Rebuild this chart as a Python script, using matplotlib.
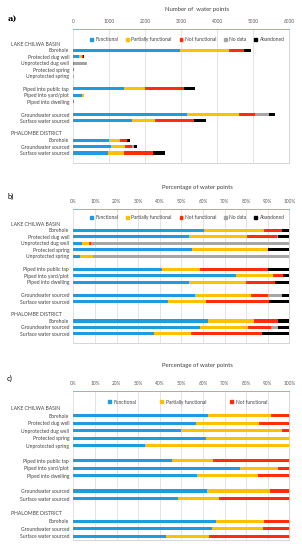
import matplotlib
matplotlib.use("Agg")
import matplotlib.pyplot as plt
from matplotlib.patches import Patch
from matplotlib.transforms import blended_transform_factory

plt.rcParams['font.family'] = ['Lato', 'DejaVu Sans']

# categories (top to bottom)
categories = ['Borehole', 'Protected dug well', 'Unprotected dug well', 'Protected spring',
              'Unprotected spring', 'Piped into public tap', 'Piped into yard/plot',
              'Piped into dwelling', 'Groundwater sourced', 'Surface water sourced',
              'Borehole', 'Groundwater sourced', 'Surface water sourced']
headers = ['LAKE CHILWA BASIN', 'PHALOMBE DISTRICT']
status_names = ['Functional', 'Partially functional', 'Not functional', 'No data', 'Abandoned']

# a) number of water points
a_functional = [2960, 155, 14, 11, 1, 1400, 233, 8, 3160, 1630, 990, 1035, 955]
a_partial = [1370, 80, 14, 7, 2, 590, 52, 4, 1450, 650, 315, 400, 445]
a_notfunc = [420, 38, 2, 0, 0, 1075, 15, 2, 445, 1075, 185, 195, 825]
a_nodata = [0, 3, 360, 0, 30, 0, 0, 0, 380, 0, 0, 55, 0]
a_abandoned = [175, 15, 0, 2, 0, 315, 10, 1, 165, 340, 85, 75, 325]

# b) percentage of water points, all statuses
b_functional = [60.5, 53.4, 3.9, 54.9, 2.9, 41.0, 75.3, 53.4, 56.2, 44.0, 62.5, 58.8, 37.2]
b_partial = [27.6, 27.2, 3.5, 35.1, 6.2, 17.5, 17.0, 26.5, 25.9, 17.3, 21.1, 21.9, 17.4]
b_notfunc = [8.7, 13.5, 0.6, 0, 0, 31.6, 4.9, 13.5, 8.2, 29.3, 11.3, 11.0, 32.6]
b_nodata = [0, 0.7, 92.0, 0, 90.9, 0, 0, 0, 6.5, 0, 0, 3.1, 0]
b_abandoned = [3.2, 5.2, 0, 10.0, 0, 9.9, 2.8, 6.6, 3.2, 9.4, 5.1, 5.2, 12.8]

# c) percentage of water points, known status only
c_functional = [62.3, 56.6, 50.0, 61.3, 33.3, 45.8, 77.3, 57.3, 61.9, 48.5, 65.9, 64.2, 42.7]
c_partial = [29.1, 29.2, 46.6, 38.7, 66.7, 19.1, 17.5, 28.3, 29.1, 19.1, 22.4, 23.6, 20.1]
c_notfunc = [8.6, 14.2, 3.4, 0, 0, 35.1, 5.2, 14.4, 9.0, 32.4, 11.7, 12.2, 37.2]

colors = ['#1f9be0', '#ffc000', '#ff2d0a', '#a6a6a6', '#000000']
rows = [1, 2, 3, 4, 5, 7, 8, 9, 11, 12, 15, 16, 17]
header_rows = [0, 14]

W, H = 302, 550
fig = plt.figure(figsize=(W / 100, H / 100), dpi=100)


def panel(top, bottom, ylim, series, xmax, xticks, xlabels, title, title_y, letter, letter_y,
          leg_y, colspace, barh=0.48, letter_font=None):
    ax = fig.add_axes([73.3 / W, 1 - bottom / H, 216 / W, (bottom - top) / H])
    n = len(series)
    left = [0] * len(rows)
    for i, vals in enumerate(series):
        ax.barh(rows, vals, left=left, height=barh, color=colors[i], label=status_names[i], zorder=3)
        left = [l + v for l, v in zip(left, vals)]
    ax.set_xlim(0, xmax)
    ax.set_ylim(*ylim)
    ax.xaxis.tick_top()
    ax.set_xticks(xticks)
    ax.set_xticklabels(xlabels, fontsize=3.4, color='#595959')
    ax.tick_params(axis='x', length=0, pad=3.5)
    ax.set_yticks(rows)
    ax.set_yticklabels(categories, fontsize=3.6, color='#404040')
    ax.tick_params(axis='y', length=0, pad=3)
    ax.grid(axis='x', color='#d9d9d9', linewidth=0.5, zorder=0)
    for s in ['left']:
        ax.spines[s].set_visible(False)
    ax.spines['top'].set_color('#7db7e3')
    ax.spines['top'].set_linewidth(0.7)
    ax.spines['top'].set_linestyle((0, (1, 1)))
    for s in ['right', 'bottom']:
        ax.spines[s].set_color('#d0d0d0')
        ax.spines[s].set_linewidth(0.6)
    tr = blended_transform_factory(fig.transFigure, ax.transData)
    for r, h in zip(header_rows, headers):
        ax.text(11 / W, r, h, transform=tr, fontsize=3.6, color='#404040', va='center', ha='left')
    handles = [Patch(color=colors[i], label=status_names[i]) for i in range(n)]
    ax.legend(handles=handles, ncol=n, loc='center', bbox_to_anchor=(0.528, leg_y), frameon=False,
              fontsize=3.5, handlelength=0.6, handleheight=0.6, handletextpad=0.5,
              columnspacing=colspace, labelcolor='#404040')
    fig.text(197 / W, 1 - title_y / H, title, fontsize=4.3, color='#404040', ha='center', va='center')
    if letter_font:
        fig.text(8 / W, 1 - letter_y / H, letter, fontsize=6, ha='left', va='center',
                 fontweight='bold', family=letter_font)
    else:
        fig.text(7 / W, 1 - letter_y / H, letter, fontsize=5.5, ha='left', va='center')
    return ax


panel(29, 163, (18.56, -2.34),
      [a_functional, a_partial, a_notfunc, a_nodata, a_abandoned], 6000,
      list(range(0, 6001, 1000)), [str(v) for v in range(0, 6001, 1000)],
      'Number of  water points', 10, 'a)', 19, 0.918, 1.6, letter_font='DejaVu Serif')

pct_ticks = list(range(0, 101, 10))
pct_labels = [f'{v}%' for v in pct_ticks]
panel(209, 343, (18.4, -2.32),
      [b_functional, b_partial, b_notfunc, b_nodata, b_abandoned], 100,
      pct_ticks, pct_labels, 'Percentage of water points', 188, 'b)', 196, 0.933, 1.6)

panel(391, 540, (17.5, -2.26),
      [c_functional, c_partial, c_notfunc], 100,
      pct_ticks, pct_labels, 'Percentage of water points', 365, 'c)', 378, 0.926, 5.0, barh=0.42)

fig.savefig('out.png', dpi=100)
